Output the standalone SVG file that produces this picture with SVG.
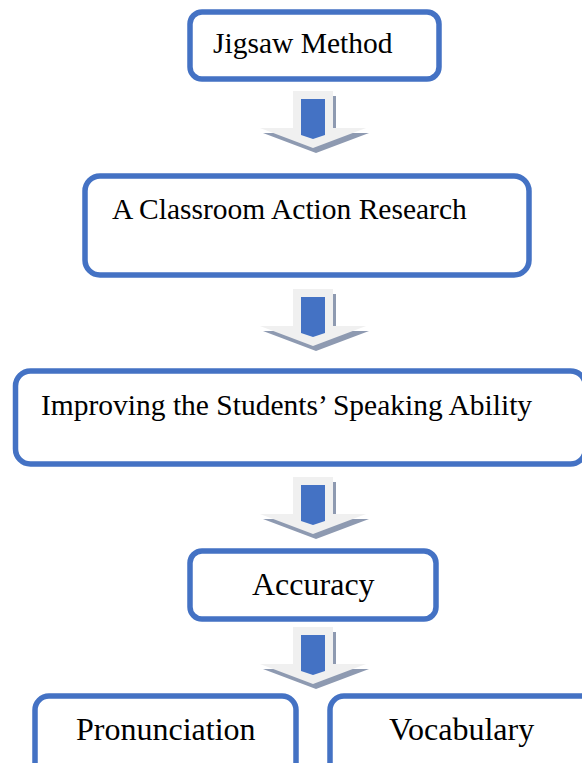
<svg xmlns="http://www.w3.org/2000/svg" xmlns:xlink="http://www.w3.org/1999/xlink" width="582" height="763" viewBox="0 0 582 763">
  <style>
    .box { fill: #ffffff; stroke: #4472c4; stroke-width: 5.5; }
    .label { font-family: "Liberation Serif", "Times New Roman", serif; fill: #000000; }
    .t29 { font-size: 29.5px; }
    .t31 { font-size: 32px; }
  </style>
  <defs>
    <!-- block arrow with drop shadow and blue inner bar -->
    <g id="down-arrow">
      <path transform="translate(3,5)" fill="#8e9ab1" d="M293,91 H333 V128 H366 L313,148 L260,128 H293 Z"/>
      <path fill="#f0f0f0" d="M293,91 H333 V128 H366 L313,148 L260,128 H293 Z"/>
      <path fill="#4472c4" d="M301,99 H325 V135 L313,139 L301,135 Z"/>
    </g>
  </defs>

  <g id="connectors">
    <use xlink:href="#down-arrow"/>
    <use xlink:href="#down-arrow" transform="translate(0,198)"/>
    <use xlink:href="#down-arrow" transform="translate(0,386)"/>
    <use xlink:href="#down-arrow" transform="translate(0,536)"/>
  </g>

  <g id="jigsaw-method">
    <rect class="box" x="190" y="12" width="249" height="67" rx="12"/>
    <text class="label t29" x="213" y="53">Jigsaw Method</text>
  </g>

  <g id="classroom-action-research">
    <rect class="box" x="85" y="176" width="444" height="99" rx="15"/>
    <text class="label t29" x="112" y="219">A Classroom Action Research</text>
  </g>

  <g id="speaking-ability">
    <rect class="box" x="15.5" y="371" width="570" height="93" rx="15"/>
    <text class="label t29" x="41" y="415">Improving the Students’ Speaking Ability</text>
  </g>

  <g id="accuracy">
    <rect class="box" x="190" y="551" width="246" height="68" rx="12"/>
    <text class="label t31" x="252" y="595">Accuracy</text>
  </g>

  <g id="pronunciation">
    <rect class="box" x="35" y="696" width="261" height="90" rx="14"/>
    <text class="label t31" x="76" y="740">Pronunciation</text>
  </g>

  <g id="vocabulary">
    <rect class="box" x="330" y="696" width="270" height="90" rx="14"/>
    <text class="label t31" x="389" y="740">Vocabulary</text>
  </g>
</svg>
